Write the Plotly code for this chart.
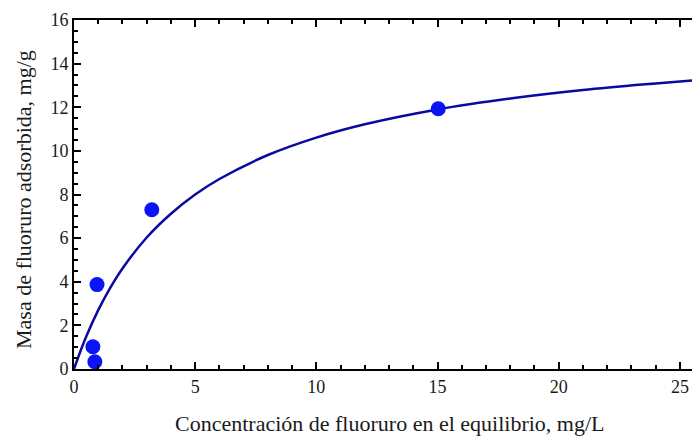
import plotly.graph_objects as go

# Experimental points
conc_exp = [0.78, 0.86, 0.95, 3.21, 15.03]
masa_exp = [1.02, 0.33, 3.87, 7.30, 11.93]

# Fitted curve
conc_fit = [0, 0.15, 0.25, 0.5, 1, 1.5, 2, 3, 4, 5, 6, 8, 10, 12, 15, 18, 21, 24, 26]
masa_fit = [0, 0.47, 0.77, 1.48, 2.70, 3.73, 4.61, 6.03, 7.12, 8.00, 8.71, 9.81,
            10.61, 11.22, 11.90, 12.40, 12.79, 13.09, 13.27]

x_title = "Concentración de fluoruro en el equilibrio, mg/L"
y_title = "Masa de fluoruro adsorbida, mg/g"

font = "Liberation Serif, Times New Roman, serif"
txt = "#1a1a1a"

fig = go.Figure()
fig.add_trace(go.Scatter(x=conc_fit, y=masa_fit, mode="lines", line_shape="spline",
                         line=dict(color="#0a0a9e", width=2.5), hoverinfo="skip",
                         showlegend=False))
fig.add_trace(go.Scatter(x=conc_exp, y=masa_exp, mode="markers",
                         marker=dict(color="#0a14f5", size=15, line=dict(width=0)),
                         showlegend=False))

axis_common = dict(showgrid=False, zeroline=False, showline=True, linecolor="black",
                   linewidth=2, mirror="ticks", ticks="inside", tickcolor="black",
                   tickwidth=2, ticklen=7, automargin=False,
                   tickfont=dict(family=font, size=18, color=txt))

fig.update_xaxes(range=[0, 25.83], dtick=5, tick0=0,
                 minor=dict(dtick=1, ticks="inside", ticklen=4, tickwidth=2, tickcolor="black"),
                 **axis_common)
fig.update_yaxes(range=[0, 16], dtick=2, tick0=0,
                 minor=dict(dtick=0.5, ticks="inside", ticklen=4, tickwidth=2, tickcolor="black"),
                 **axis_common)

fig.add_annotation(text=x_title, xref="paper", yref="paper", x=(389 - 74) / 626,
                   y=-(424 - 369) / 349, xanchor="center", yanchor="middle",
                   showarrow=False, font=dict(family=font, size=22, color=txt))
fig.add_annotation(text=y_title, xref="paper", yref="paper", x=-(74 - 23) / 626,
                   y=(369 - 200) / 349, xanchor="center", yanchor="middle", textangle=-90,
                   showarrow=False, font=dict(family=font, size=22, color=txt))

# page has an 8px body margin, so the figure is sized/offset to compensate
fig.update_layout(width=692, height=428, margin=dict(l=66, r=0, t=12, b=67),
                  plot_bgcolor="white", paper_bgcolor="white")

fig.write_html("out.html")
